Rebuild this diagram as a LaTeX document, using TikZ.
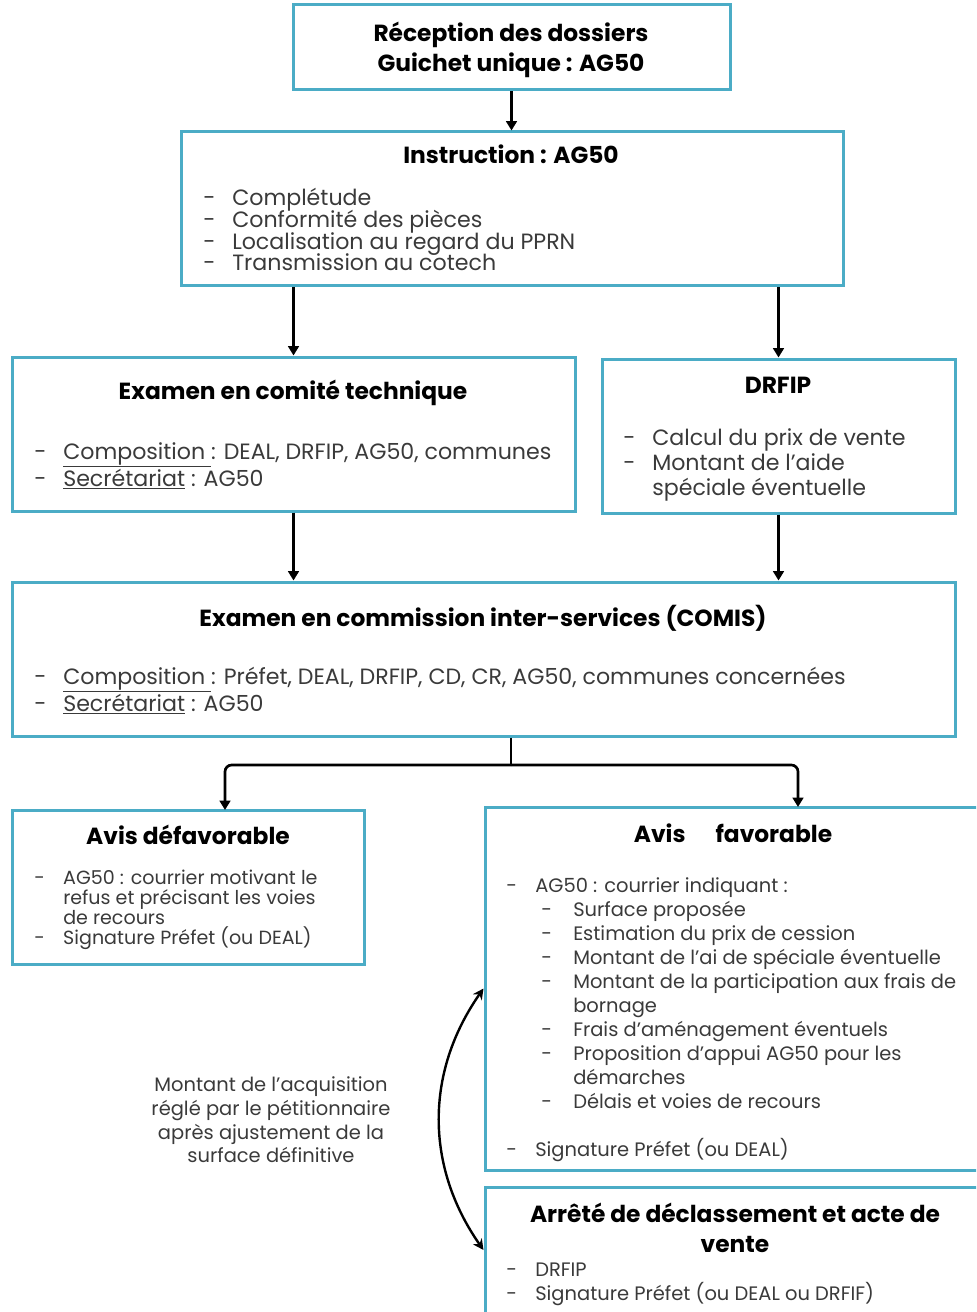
\documentclass[tikz,border=0pt]{standalone}
\usepackage{fontspec}
\setmainfont{Poppins}
\usetikzlibrary{arrows.meta,fit,calc}
\definecolor{bord}{HTML}{4BACC6}
\definecolor{bodytxt}{HTML}{3A3A3A}
\newlength\px \setlength\px{0.75pt}
\newcommand\dd{\makebox[29\px][l]{-}}
\newcommand\ind{\hspace*{29\px}}
\newcommand\sd{\hspace*{35\px}\makebox[32\px][l]{-}}
\newcommand\si{\hspace*{67\px}}
\setlength\lineskiplimit{-100pt}
\begin{document}
\begin{tikzpicture}[x=0.75pt,y=-0.75pt,
  box/.style={draw=bord,line width=2.25pt,inner sep=0pt},
  ttl/.style={font=\fontsize{17.5}{22.5}\selectfont\bfseries,text=black,inner sep=0pt,align=center},
  lst/.style 2 args={font=\fontsize{#1}{#2}\selectfont,text=bodytxt,align=left,inner sep=0pt,anchor=base west},
  arr/.style={-{Triangle[length=7pt,width=8pt]},line width=2pt},
  link/.style={line width=2pt}]
\useasboundingbox (0,0) rectangle (976,1312);
\clip (0,0) rectangle (976,1312);
% boxes
\node[box,fit={(293,5) (730,90)}] (b1) {};
\node[box,fit={(181,132) (843,286)}] (b2) {};
\node[box,fit={(12,357) (575,511)}] (b3) {};
\node[box,fit={(602,359) (955,513)}] (b4) {};
\node[box,fit={(12,582) (955,736)}] (b5) {};
\node[box,fit={(12,810) (364,964)}] (b6) {};
\node[box,fit={(485,807) (992,1170)}] (b7) {};
\node[box,fit={(485,1187) (992,1313)}] (b8) {};
% texts
\node[ttl] (t1) at (511,50) {Réception des dossiers\\Guichet unique : AG50};
\node[ttl] (t2) at (511,154) {Instruction : AG50};
\node[lst={16.6pt}{16.3pt}] (l2) at (203,271) {\dd Complétude\\\dd Conformité des pièces\\\dd Localisation au regard du PPRN\\\dd Transmission au cotech};
\node[ttl] (t3) at (293,393) {Examen en comité technique};
\node[lst={16.6pt}{20.25pt}] (l3) at (34,486) {\dd\underline{Composition }: DEAL, DRFIP, AG50, communes\\\dd\underline{Secrétariat} : AG50};
\node[ttl] (t4) at (778,385) {DRFIP};
\node[lst={16.6pt}{18.75pt}] (l4) at (623,495) {\dd Calcul du prix de vente\\\dd Montant de l’aide\\\ind spéciale éventuelle};
\node[ttl] (t5) at (483,618) {Examen en commission inter-services (COMIS)};
\node[lst={16.6pt}{20.25pt}] (l5) at (34,711) {\dd\underline{Composition }: Préfet, DEAL, DRFIP, CD, CR, AG50, communes concernées\\\dd\underline{Secrétariat} : AG50};
\node[ttl] (t6) at (188,835) {Avis défavorable};
\node[lst={14.3pt}{14.8pt}] (l6) at (34,944) {\dd AG50 : courrier motivant le\\\ind refus et précisant les voies\\\ind de recours\\\dd Signature Préfet (ou DEAL)};
\node[ttl] (t7) at (733,833) {Avis\hspace{30\px}favorable};
\node[lst={14.6pt}{18pt}] (l7) at (506,1156) {\dd AG50 : courrier indiquant :\\\sd Surface proposée\\\sd Estimation du prix de cession\\\sd Montant de l’ai de spéciale éventuelle\\\sd Montant de la participation aux frais de\\\si bornage\\\sd Frais d’aménagement éventuels\\\sd Proposition d’appui AG50 pour les\\\si démarches\\\sd Délais et voies de recours\\[18pt]\dd Signature Préfet (ou DEAL)};
\node[ttl] (t8) at (735,1228) {Arrêté de déclassement et acte de\\vente};
\node[lst={14.6pt}{18pt}] (l8) at (506,1300) {\dd DRFIP\\\dd Signature Préfet (ou DEAL ou DRFIF)};
\node[font=\fontsize{14.6}{17.8}\selectfont,text=bodytxt,align=center,inner sep=0pt] (note) at (271,1120) {Montant de l’acquisition\\réglé par le pétitionnaire\\après ajustement de la\\surface définitive};
% connectors
\draw[arr] (b1.south) -- (b1.south |- b2.north);
\draw[arr] (b3.north |- b2.south) -- (b3.north);
\draw[arr] (b4.north |- b2.south) -- (b4.north);
\draw[arr] (b3.south) -- (b3.south |- b5.north);
\draw[arr] (b4.south) -- (b4.south |- b5.north);
\coordinate (fk) at (511,765);
\coordinate (a6) at (225,810);
\coordinate (a7) at (798,807);
\draw[link] (fk |- b5.south) -- (fk);
\draw[arr,rounded corners=5pt] (fk) -| (a6);
\draw[arr,rounded corners=5pt] (fk) -| (a7);
\draw[{Stealth[length=8pt,width=8pt]}-{Stealth[length=8pt,width=8pt]},line width=1.8pt] (b7.west) to[out=235,in=125] (b8.west);
\end{tikzpicture}
\end{document}
